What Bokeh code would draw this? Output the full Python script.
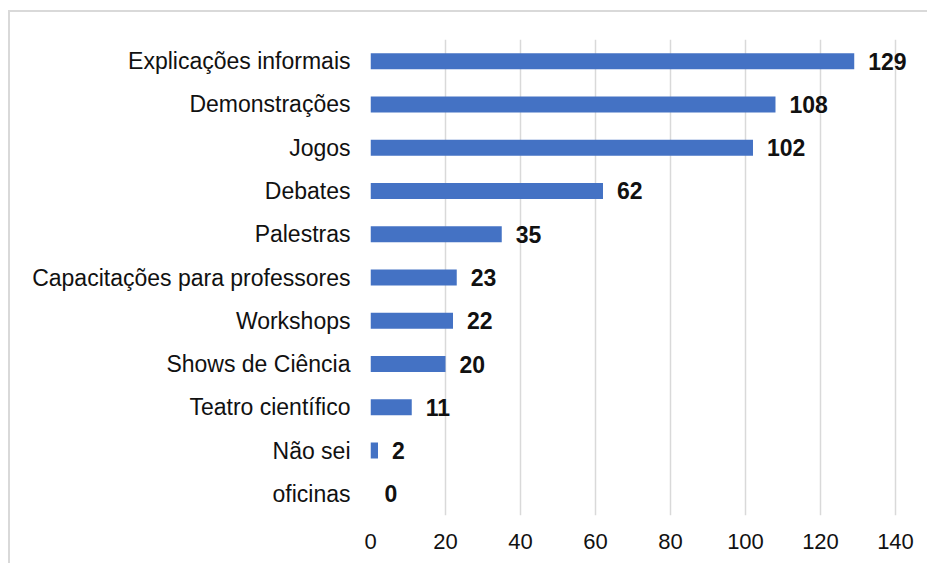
from bokeh.plotting import figure
from bokeh.models import ColumnDataSource, FixedTicker, Range1d
from bokeh.core.properties import value
from bokeh.embed import file_html
from bokeh.resources import INLINE

categories = ["Explicações informais", "Demonstrações", "Jogos", "Debates", "Palestras",
              "Capacitações para professores", "Workshops", "Shows de Ciência",
              "Teatro científico", "Não sei", "oficinas"]
counts = [129, 108, 102, 62, 35, 23, 22, 20, 11, 2, 0]
x_ticks = [0, 20, 40, 60, 80, 100, 120, 140]

cats_rev = categories[::-1]
src = ColumnDataSource(dict(cat=categories, n=counts, lab=[str(c) for c in counts]))

FONT = "Liberation Sans"
p = figure(width=919, height=553, y_range=cats_rev, x_range=Range1d(0, 149.07),
           output_backend="svg", toolbar_location=None,
           min_border_left=360, min_border_right=0, min_border_top=27, min_border_bottom=50)
p.styles = {"border-left": "2px solid #d9d9d9", "border-top": "2px solid #d9d9d9",
            "margin-top": "10px", "margin-left": "8px"}

p.hbar(y="cat", right="n", left=0, height=0.37, source=src, fill_color="#4472C4", line_color=None)
p.text(x="n", y="cat", text="lab", source=src, x_offset=14, text_baseline="middle",
       text_font=value(FONT), text_font_size="23px", text_font_style="bold", text_color="#111111")

p.outline_line_color = None
p.background_fill_color = "white"
p.border_fill_color = "white"

p.xaxis.ticker = FixedTicker(ticks=x_ticks)
p.xgrid.ticker = FixedTicker(ticks=x_ticks)
p.xgrid.grid_line_color = "#d9d9d9"
p.xgrid.grid_line_width = 1.5
p.ygrid.grid_line_color = None

for ax in (p.xaxis[0], p.yaxis[0]):
    ax.axis_line_color = None
    ax.major_tick_line_color = None
    ax.minor_tick_line_color = None
    ax.major_tick_out = 0
    ax.major_tick_in = 0
    ax.major_label_text_font = FONT
    ax.major_label_text_color = "#111111"

p.yaxis.major_label_text_font_size = "23px"
p.xaxis.major_label_text_font_size = "22px"
p.yaxis.major_label_standoff = 20
p.xaxis.major_label_standoff = 18

open("out.html", "w").write(file_html(p, INLINE))
